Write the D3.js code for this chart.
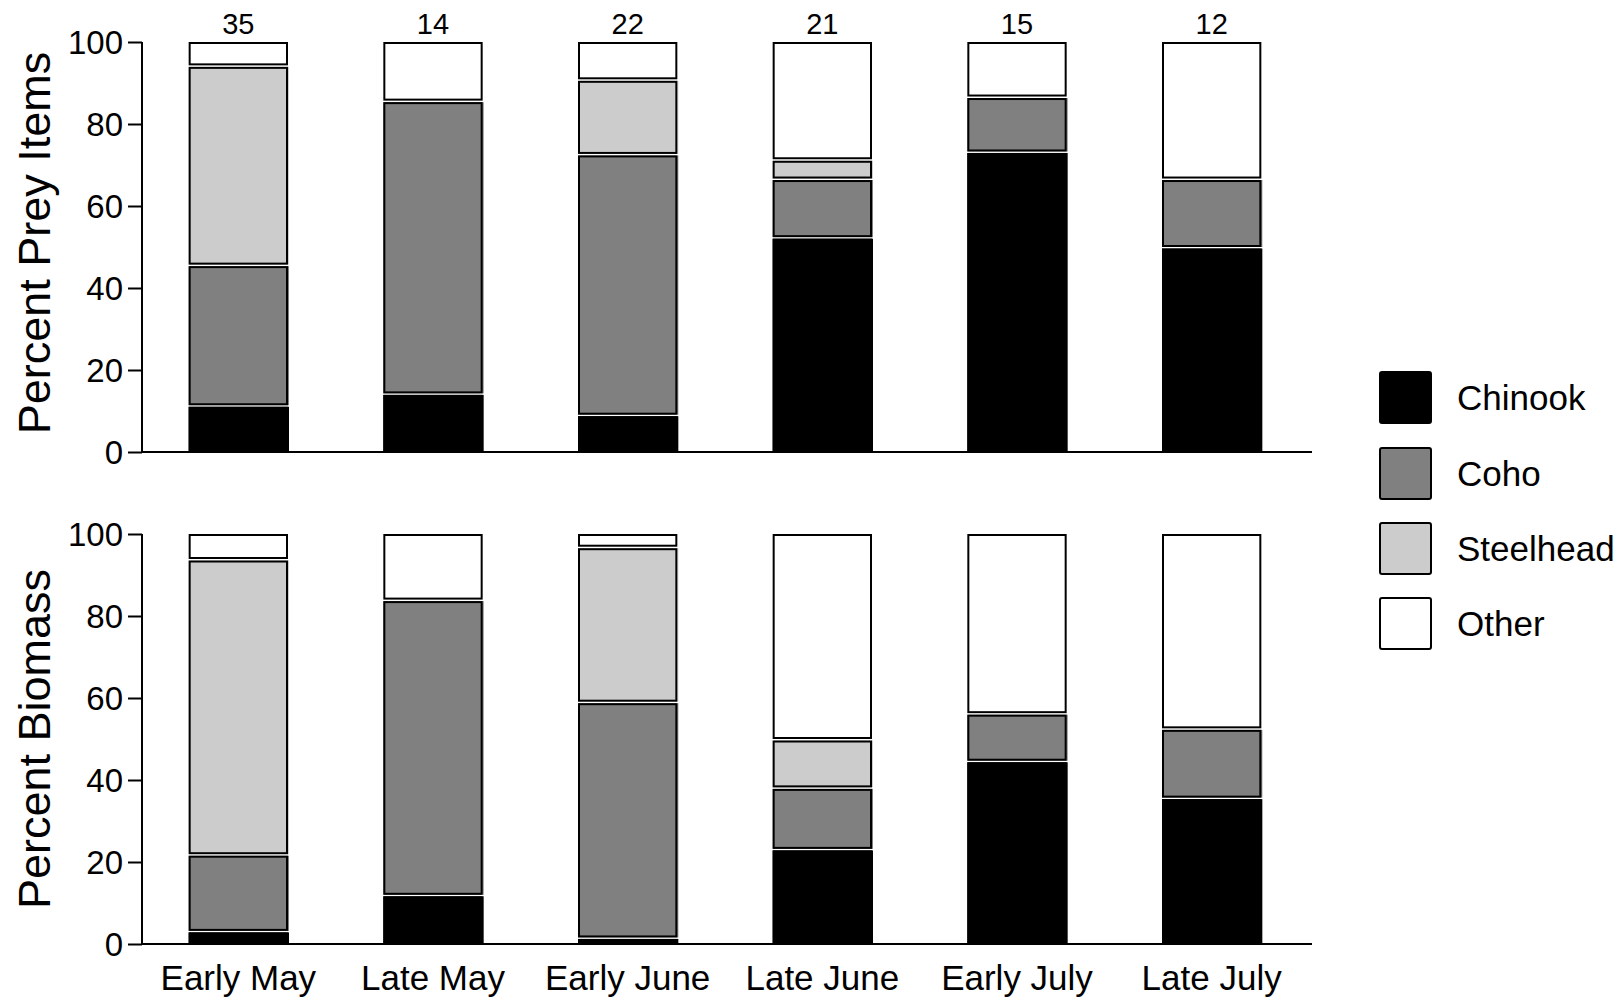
<head>
    <meta charset="utf-8"/>
    <script src="https://d3js.org/d3.v7.min.js"></script>
    <style>
        body { margin: 0; background: #fff; }
        text { font-family: "Liberation Sans", Arial, sans-serif; fill: #000; }
    </style>
</head>
<body>
    <svg id="chart" width="1621" height="1001"></svg>
    <script>
        // periods along the x axis
        let periods = ["Early May", "Late May", "Early June", "Late June", "Early July", "Late July"];
        // number of prey items per period (printed above top bars)
        let sampleSizes = [35, 14, 22, 21, 15, 12];
        let species = ["Chinook", "Coho", "Steelhead", "Other"];
        let colors = ["#000000", "#808080", "#cccccc", "#ffffff"];

        // percent prey items
        let preyChinook   = [11.4, 14.3, 9.1, 52.4, 73.3, 50.0];
        let preyCoho      = [34.3, 71.4, 63.6, 14.3, 13.4, 16.7];
        let preySteelhead = [48.6, 0, 18.2, 4.7, 0, 0];
        let preyOther     = [5.7, 14.3, 9.1, 28.6, 13.3, 33.3];

        // percent biomass
        let bioChinook   = [3.2, 12.0, 1.6, 23.2, 44.7, 35.7];
        let bioCoho      = [18.7, 72.0, 57.5, 15.0, 11.6, 16.9];
        let bioSteelhead = [72.0, 0, 37.8, 11.8, 0, 0];
        let bioOther     = [6.1, 16.0, 3.1, 50.0, 43.7, 47.4];

        let yTicks = [0, 20, 40, 60, 80, 100];

        let svg = d3.select("svg#chart");
        let xScale = d3.scaleBand().domain(periods).range([141, 1309])
            .paddingInner(0.5).paddingOuter(0.25);
        let bw = xScale.bandwidth();

        function rows(c, co, s, o) {
            return periods.map(function(p, i) {
                return { period: p, Chinook: c[i], Coho: co[i], Steelhead: s[i], Other: o[i] };
            });
        }

        function drawPanel(data, top, bottom, title, titleShift) {
            let yScale = d3.scaleLinear().domain([0, 100]).range([bottom, top]);
            let g = svg.append("g");

            let stacked = d3.stack().keys(species)(data);
            stacked.forEach(function(layer, k) {
                layer.forEach(function(d, i) {
                    if (d[1] - d[0] <= 0) return;
                    let x = xScale(periods[i]);
                    let y1 = yScale(d[1]);
                    let y0 = yScale(d[0]);
                    // white gap under the segment above
                    let yt = (d[1] >= 99.9) ? y1 : y1 + 1.5;
                    // fill, a bit wider on the right like the original
                    g.append("rect")
                        .attr("x", x - 1)
                        .attr("y", yt)
                        .attr("width", bw + 3)
                        .attr("height", Math.max(0, y0 - yt))
                        .style("fill", k == 3 ? "#fff" : colors[k]);
                    g.append("rect")
                        .attr("x", x)
                        .attr("y", yt + 1)
                        .attr("width", bw)
                        .attr("height", Math.max(0, y0 - yt - 2))
                        .style("fill", "none")
                        .style("stroke", "#000")
                        .style("stroke-width", 2);
                });
            });

            // y axis
            let yAxis = d3.axisLeft(yScale).tickValues(yTicks).tickSize(14).tickSizeOuter(0).tickPadding(5);
            let ay = g.append("g").attr("transform", "translate(142,0)").call(yAxis);
            ay.select(".domain").remove();
            ay.selectAll("line").style("stroke", "#000").style("stroke-width", 2);
            ay.selectAll("text").style("font-size", "33px").attr("dy", "0.36em");

            g.append("line")
                .attr("x1", 142).attr("x2", 142)
                .attr("y1", top).attr("y2", bottom + 1)
                .style("stroke", "#000").style("stroke-width", 2);
            g.append("line")
                .attr("x1", 141).attr("x2", 1312)
                .attr("y1", bottom).attr("y2", bottom)
                .style("stroke", "#000").style("stroke-width", 2);

            g.append("text")
                .text(title)
                .attr("transform", "translate(50," + ((top + bottom) / 2 + titleShift) + ") rotate(-90)")
                .attr("text-anchor", "middle")
                .style("font-size", "45px");
            return yScale;
        }

        drawPanel(rows(preyChinook, preyCoho, preySteelhead, preyOther), 42, 452, "Percent Prey Items", -4);
        drawPanel(rows(bioChinook, bioCoho, bioSteelhead, bioOther), 534, 944, "Percent Biomass", 0);

        // sample sizes above top panel
        sampleSizes.forEach(function(n, i) {
            svg.append("text")
                .text(n)
                .attr("x", xScale(periods[i]) + bw / 2)
                .attr("y", 34)
                .attr("text-anchor", "middle")
                .style("font-size", "29px");
        });

        // x labels
        periods.forEach(function(p) {
            svg.append("text")
                .text(p)
                .attr("x", xScale(p) + bw / 2)
                .attr("y", 990)
                .attr("text-anchor", "middle")
                .style("font-size", "35px");
        });

        // legend
        let legendY = [372, 448, 523, 598];
        species.forEach(function(s, i) {
            svg.append("rect")
                .attr("x", 1380)
                .attr("y", legendY[i])
                .attr("width", 51)
                .attr("height", 51)
                .attr("rx", 2)
                .style("fill", colors[i])
                .style("stroke", "#000")
                .style("stroke-width", 2);
            svg.append("text")
                .text(s)
                .attr("x", 1457)
                .attr("y", legendY[i] + 38)
                .style("font-size", "35px");
        });
    </script>
</body>
